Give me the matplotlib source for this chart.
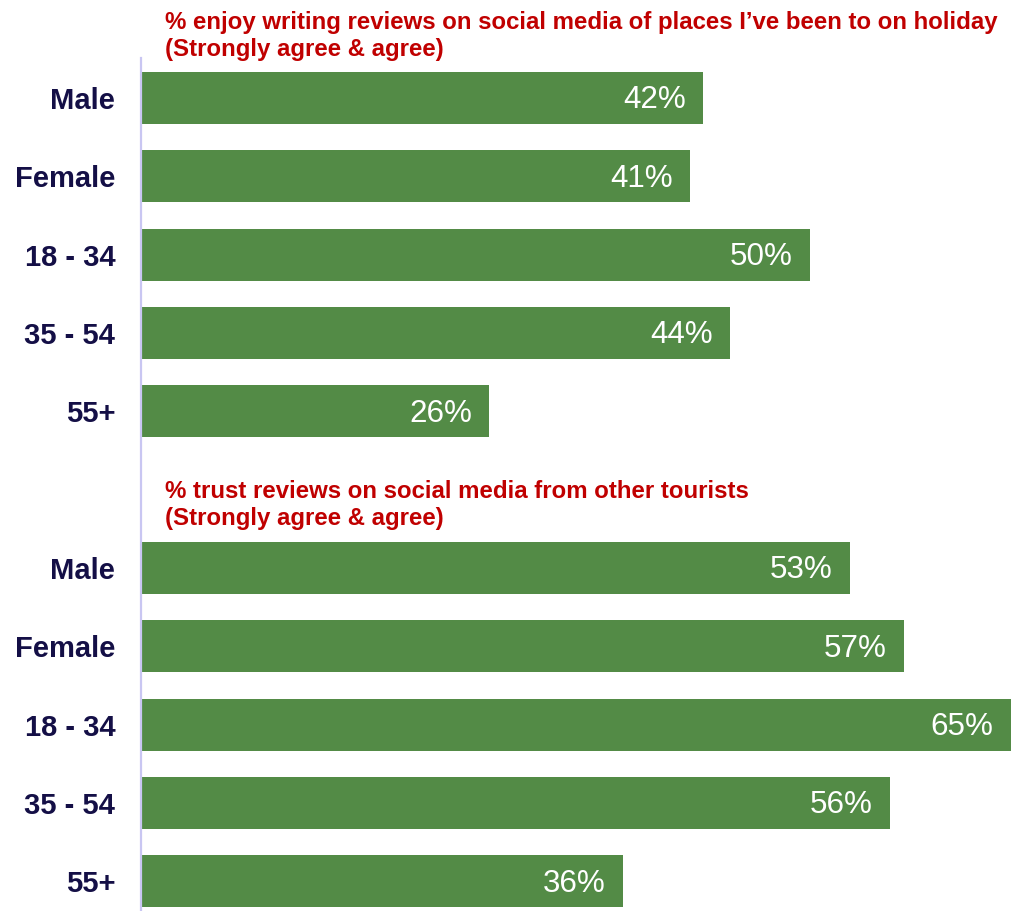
import matplotlib.pyplot as plt
import numpy as np

plt.rcParams['font.family'] = ['Liberation Sans', 'DejaVu Sans']

# Data
groups = ["Male", "Female", "18 - 34", "35 - 54", "55+"]
enjoy_writing = [42, 41, 50, 44, 26]
trust_reviews = [53, 57, 65, 56, 36]
titles = [
    "% enjoy writing reviews on social media of places I\u2019ve been to on holiday\n(Strongly agree & agree)",
    "% trust reviews on social media from other tourists\n(Strongly agree & agree)",
]

GREEN = "#538B46"
RED = "#C00000"
NAVY = "#140F46"

fig = plt.figure(figsize=(10.14, 9.11), dpi=100)
ax = fig.add_axes([141 / 1014, 0, 873 / 1014, 853 / 911])

# two blocks of bars, one empty slot between them
pos_top = np.arange(len(groups))
pos_bottom = pos_top + len(groups) + 1
positions = np.concatenate([pos_top, pos_bottom])
values = enjoy_writing + trust_reviews

ax.barh(positions, values, height=0.665, color=GREEN, left=0.05)

for p, v in zip(positions, values):
    ax.text(v - 1.25, p + 0.03, f"{v}%", color="white", fontsize=22.6,
            ha="right", va="center")

# section titles
ax.text(1.8, -0.79, titles[0], color=RED, fontsize=17.3, fontweight="bold",
        ha="left", va="center", linespacing=1.22)
ax.text(1.8, 5.2, titles[1], color=RED, fontsize=17.3, fontweight="bold",
        ha="left", va="center", linespacing=1.22)

ax.set_yticks(positions)
ax.set_yticklabels(groups + groups, fontsize=21, fontweight="bold", color=NAVY)
ax.tick_params(axis="y", length=0, pad=18.5)
ax.set_xticks([])

ax.set_xlim(0, 65.3)
ax.set_ylim(10.38, -0.51)

for side in ["top", "right", "bottom"]:
    ax.spines[side].set_visible(False)
ax.spines["left"].set_color("#C9C6F2")
ax.spines["left"].set_linewidth(1.6)

fig.savefig("out.png", dpi=100)
